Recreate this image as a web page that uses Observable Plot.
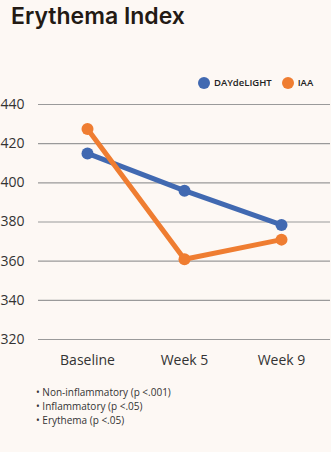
<!DOCTYPE html>
<html>
<head>
<meta charset="utf-8">
<script src="https://cdn.jsdelivr.net/npm/d3@7"></script>
<script src="https://cdn.jsdelivr.net/npm/@observablehq/plot@0.6"></script>
<style>
  html, body { margin: 0; padding: 0; background: #fdf8f4; }
  #wrap { position: relative; width: 331px; height: 452px; background: #fdf8f4; overflow: hidden; }
  #title { position: absolute; left: 11px; top: 3px; line-height: 1.2; font-family: Inter, sans-serif; font-weight: 600; font-size: 23px; color: #231a14; }
  #legend { position: absolute; left: 198px; top: 76px; font-family: "Open Sans", sans-serif; font-size: 9.5px; font-weight: 600; color: #222; display: flex; align-items: center; }
  #legend .sw { display: inline-block; width: 12px; height: 12px; border-radius: 50%; margin-right: 4px; }
  #legend .item { display: flex; align-items: center; margin-right: 10px; }
  #chart { position: absolute; left: 0; top: 0; }
  #notes { position: absolute; left: 36px; top: 385px; font-family: "Open Sans", sans-serif; font-size: 10px; color: #333; line-height: 14px; }
</style>
</head>
<body>
<div id="wrap">
  <div id="title"></div>
  <div id="legend"></div>
  <div id="chart"></div>
  <div id="notes"></div>
</div>
<script>
const titleText = "Erythema Index";
const categories = ["Baseline", "Week 5", "Week 9"];
const seriesNames = ["DAYdeLIGHT", "IAA"];
const seriesColors = ["#4169b1", "#ef7d31"];
const dayDelight = [415, 396, 378.5];
const iaa = [427.5, 361, 371];
const yTicks = [320, 340, 360, 380, 400, 420, 440];
const notes = ["Non-inflammatory (p <.001)", "Inflammatory  (p <.05)", "Erythema  (p <.05)"];

const rows = [];
[dayDelight, iaa].forEach((vals, si) => {
  vals.forEach((v, i) => rows.push({series: seriesNames[si], cat: categories[i], value: v}));
});

document.getElementById("title").textContent = titleText;

const legend = document.getElementById("legend");
seriesNames.forEach((n, i) => {
  const it = document.createElement("span");
  it.className = "item";
  const sw = document.createElement("span");
  sw.className = "sw";
  sw.style.background = seriesColors[i];
  it.appendChild(sw);
  it.appendChild(document.createTextNode(n));
  legend.appendChild(it);
});

const notesEl = document.getElementById("notes");
notes.forEach(t => {
  const d = document.createElement("div");
  d.textContent = "\u2022 " + t;
  notesEl.appendChild(d);
});

const chart = Plot.plot({
  width: 331,
  height: 375,
  marginTop: 104,
  marginBottom: 36,
  marginLeft: 38,
  marginRight: 1,
  style: { background: "transparent", fontFamily: "'Open Sans', sans-serif", fontSize: "14px", color: "#333" },
  x: { type: "point", domain: categories, padding: 0.5, label: null },
  y: { domain: [320, 440], ticks: yTicks, label: null },
  color: { domain: seriesNames, range: seriesColors },
  marks: [
    Plot.gridY(yTicks, { stroke: "#9a9a9a", strokeOpacity: 1, strokeWidth: 1.2 }),
    Plot.axisY(yTicks, { tickSize: 0, tickPadding: 38, textAnchor: "start", fontSize: 14, fill: "#333" }),
    Plot.axisX({ tickSize: 0, tickPadding: 16, fontSize: 14, fill: "#333" }),
    Plot.line(rows, { x: "cat", y: "value", z: "series", stroke: "series", strokeWidth: 5, strokeLinejoin: "round" }),
    Plot.dot(rows, { x: "cat", y: "value", fill: "series", r: 6 })
  ]
});
document.getElementById("chart").appendChild(chart);
</script>
</body>
</html>
